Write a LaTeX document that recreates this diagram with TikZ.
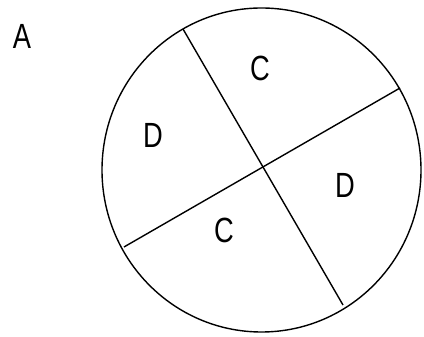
\documentclass[tikz,border=0pt]{standalone}
\usepackage{fontspec}
\setmainfont{Liberation Sans}
\tikzset{
  lbl/.style={inner sep=0pt, font=\fontsize{35}{35}\selectfont},
  edge/.style={line width=1.4pt, black}
}
\newcommand{\nar}[1]{\scalebox{0.78}[1]{#1}}
\begin{document}
\begin{tikzpicture}[x=1pt,y=1pt]
\useasboundingbox (0,0) rectangle (424,337);
\coordinate (ctr) at (261.5,167);
\draw[edge] (ctr) ellipse [x radius=159.5, y radius=162];
\coordinate (p1) at (183,308);
\coordinate (p2) at (343,32);
\coordinate (q1) at (124,90);
\coordinate (q2) at (400,249);
\draw[edge] (p1) -- (p2);
\draw[edge] (q1) -- (q2);
\node[lbl] (a) at (22,301) {\nar{A}};
\node[lbl] (c1) at (260,269) {\nar{C}};
\node[lbl] (d1) at (153,202) {\nar{D}};
\node[lbl] (d2) at (345,152) {\nar{D}};
\node[lbl] (c2) at (224,107) {\nar{C}};
\end{tikzpicture}
\end{document}
